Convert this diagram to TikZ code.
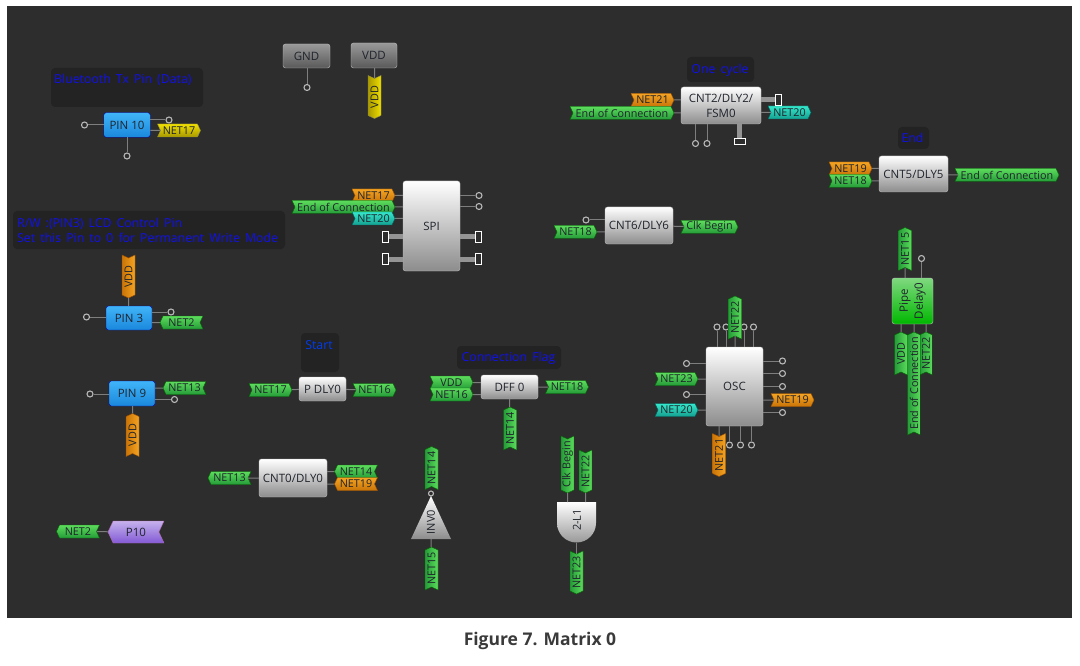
\documentclass[tikz,border=0pt]{standalone}
\usepackage{fontspec}
\setmainfont{Open Sans}
\newfontfamily\notefont[WordSpace=1.6]{Open Sans}
\usetikzlibrary{shapes.symbols}
\definecolor{boardbg}{HTML}{2D2D2D}
\definecolor{notebg}{HTML}{232323}
\definecolor{notetext}{HTML}{1010F0}
\definecolor{wirecol}{HTML}{7E7E7E}
\definecolor{capcol}{HTML}{3A3A3A}
\definecolor{inktext}{HTML}{20242C}
\tikzset{
	wire/.style={draw=wirecol, line width=1pt},
	bus/.style={draw=black!42, line width=5pt},
	openpin/.style={circle, draw=black!28, fill=boardbg, line width=1.1pt, minimum size=6pt, inner sep=0pt},
	busport/.style={rectangle, draw=white, fill=boardbg, line width=1pt, inner sep=0pt},
	note/.style={rectangle, rounded corners=4pt, fill=notebg, inner sep=0pt},
	notelabel/.style={text=notetext, font=\notefont\fontsize{12.3}{15}\selectfont, inner sep=0pt, align=left},
	block/.style={rectangle, rounded corners=2.5pt, draw=black!25, line width=0.4pt, top color=white, bottom color=black!45, text=inktext, font=\fontsize{11.5}{15}\selectfont, inner sep=0pt, align=center},
	pinblock/.style={block, draw=blue!70!black, top color=pintop, bottom color=pinbot},
	darkblock/.style={block, top color=black!40, bottom color=black!65},
	net/.style={signal, signal pointer angle=130, minimum height=13pt, minimum width=43pt, inner sep=0pt, line width=0.4pt, text=inktext, font=\fontsize{10.8}{12}\selectfont},
	netgreen/.style={net, draw=green!40!black, top color=greentop, bottom color=greenbot},
	netorange/.style={net, draw=orange!60!black, top color=orangetop, bottom color=orangebot},
	netyellow/.style={net, draw=yellow!50!black, top color=yellowtop, bottom color=yellowbot},
	netteal/.style={net, draw=teal!70!black, top color=tealtop, bottom color=tealbot},
	toright/.style={signal from=west, signal to=east},
	toleft/.style={signal from=east, signal to=west},
	toup/.style={rotate=90, signal from=west, signal to=east, shading angle=-90},
	todown/.style={rotate=90, signal from=east, signal to=west, shading angle=-90}
}
\definecolor{greentop}{HTML}{5CDC5C}
\definecolor{greenbot}{HTML}{259C38}
\definecolor{orangetop}{HTML}{F6A422}
\definecolor{orangebot}{HTML}{C87408}
\definecolor{yellowtop}{HTML}{F0E000}
\definecolor{yellowbot}{HTML}{A89800}
\definecolor{tealtop}{HTML}{34E8CC}
\definecolor{tealbot}{HTML}{14A090}
\definecolor{pintop}{HTML}{40B4F8}
\definecolor{pinbot}{HTML}{1A88DC}
\begin{document}
\begin{tikzpicture}[x=1pt, y=-1pt]
	\useasboundingbox (0,0) rectangle (1080,666);
	\fill[boardbg] (7,6) rectangle (1072,618);

	% Notes
	\node[note, minimum width=152, minimum height=39] (notetx) at (127,87.5) {};
	\node[notelabel, anchor=west] (notetxlabel) at (54,80) {Bluetooth Tx Pin (Data)};
	\node[note, minimum width=272, minimum height=38] (noterw) at (149,230) {};
	\node[notelabel, anchor=west] (noterwlabel) at (17,230.5) {R/W :(PIN3) LCD Control Pin\\Set this Pin to 0 for Permanent Write Mode};
	\node[note, minimum width=67, minimum height=25] (notecycle) at (720.5,69.5) {};
	\node[notelabel] (notecyclelabel) at (720,70) {One cycle};
	\node[note, minimum width=31, minimum height=22] (noteend) at (913.5,138) {};
	\node[notelabel] (noteendlabel) at (912.5,138) {End};
	\node[note, minimum width=38, minimum height=39] (notestart) at (320,352.5) {};
	\node[notelabel, text=blue!75!cyan!95!black] (notestartlabel) at (319,345) {Start};
	\node[note, minimum width=104, minimum height=23] (noteflag) at (509,357.5) {};
	\node[notelabel] (noteflaglabel) at (508.5,358) {Connection Flag};

	% PIN 10
	\node[pinblock, minimum width=46.5, minimum height=24.5] (pinten) at (127,125) {PIN 10};
	\node[openpin] (pintena) at (84.5,125) {};
	\node[openpin] (pintenb) at (169,120) {};
	\node[openpin] (pintenc) at (127,156) {};
	\node[netyellow, toright] (netseventeena) at (179,130.5) {NET17};
	\draw[wire] (pintena) -- (pinten);
	\draw[wire] (pinten.east |- pintenb) -- (pintenb);
	\draw[wire] (pinten.east |- netseventeena) -- (netseventeena);
	\draw[wire] (pinten) -- (pintenc);

	% PIN 3
	\node[pinblock, minimum width=46, minimum height=24] (pinthree) at (129,318) {PIN 3};
	\node[netorange, todown] (vddc) at (128.5,276.5) {VDD};
	\node[openpin] (pinthreea) at (86.5,317) {};
	\node[openpin] (pinthreeb) at (171,312) {};
	\node[netgreen, toleft] (nettwoa) at (181.5,322.5) {NET2};
	\draw[wire] (vddc) -- (vddc |- pinthree.north);
	\draw[wire] (pinthreea) -- (pinthree.west |- pinthreea);
	\draw[wire] (pinthree.east |- pinthreeb) -- (pinthreeb);
	\draw[wire] (pinthree.east |- nettwoa) -- (nettwoa);

	% PIN 9
	\node[pinblock, minimum width=46, minimum height=25] (pinnine) at (132,393.5) {PIN 9};
	\node[openpin] (pinninea) at (90,394) {};
	\node[openpin] (pinnineb) at (174.5,399.5) {};
	\node[netgreen, toleft] (netthirteena) at (184.5,388) {NET13};
	\node[netorange, toup] (vddd) at (132.5,435) {VDD};
	\draw[wire] (pinninea) -- (pinnine.west |- pinninea);
	\draw[wire] (pinnine.east |- pinnineb) -- (pinnineb);
	\draw[wire] (pinnine.east |- netthirteena) -- (netthirteena);
	\draw[wire] (vddd) -- (vddd |- pinnine.south);

	% P10
	\node[signal, signal from=east, signal to=west, signal pointer angle=130, minimum width=56, minimum height=22, inner sep=0pt, draw=violet!60, top color=violet!50!blue!30!white, bottom color=violet!50!blue!65!white, text=inktext, font=\fontsize{11.5}{15}\selectfont] (pten) at (136,532) {P10};
	\node[netgreen, toleft] (nettwob) at (78,531.5) {NET2};
	\draw[wire] (nettwob) -- (pten);

	% GND and VDD
	\node[darkblock, minimum width=47, minimum height=24] (gnd) at (306.5,56) {GND};
	\node[openpin] (gnda) at (307,87.5) {};
	\draw[wire] (gnd.south -| gnda) -- (gnda);
	\node[darkblock, minimum width=46, minimum height=25] (vdd) at (374,55.5) {VDD};
	\node[netyellow, todown] (vdda) at (374.5,97) {VDD};
	\draw[wire] (vdd.south -| vdda) -- (vdda);

	% SPI
	\node[block, minimum width=57, minimum height=90] (spi) at (431.5,226) {SPI};
	\node[netorange, toright] (netseventeenb) at (373.5,195.5) {NET17};
	\node[netgreen, toright, minimum width=103] (endb) at (343.5,207) {End of Connection};
	\node[netteal, toright] (nettwentya) at (373.5,218.5) {NET20};
	\node[openpin] (spia) at (479,195.5) {};
	\node[openpin] (spib) at (479,206.5) {};
	\node[busport, minimum width=6, minimum height=11] (spic) at (385,237) {};
	\node[busport, minimum width=6, minimum height=11] (spid) at (385,259) {};
	\node[busport, minimum width=6, minimum height=11] (spie) at (478.5,237) {};
	\node[busport, minimum width=6, minimum height=11] (spif) at (478.5,259) {};
	\draw[wire] (netseventeenb) -- (spi.west |- netseventeenb);
	\draw[wire] (endb) -- (spi.west |- endb);
	\draw[wire] (nettwentya) -- (spi.west |- nettwentya);
	\draw[wire] (spi.east |- spia) -- (spia);
	\draw[wire] (spi.east |- spib) -- (spib);
	\draw[bus] (spic) -- (spi.west |- spic);
	\draw[bus] (spid) -- (spi.west |- spid);
	\draw[bus] (spi.east |- spie) -- (spie);
	\draw[bus] (spi.east |- spif) -- (spif);

	% CNT2/DLY2/FSM0
	\node[block, minimum width=80, minimum height=37] (cnttwo) at (721,105.5) {CNT2/DLY2/\\FSM0};
	\node[netorange, toright] (nettwentyonea) at (652.5,100) {NET21};
	\node[netgreen, toright, minimum width=104] (enda) at (622,113) {End of Connection};
	\node[netteal, toright] (nettwentyb) at (789.5,112.5) {NET20};
	\node[busport, minimum width=6, minimum height=11] (cnttwoa) at (778,100) {};
	\node[busport, minimum width=11, minimum height=6] (cnttwob) at (739.5,142) {};
	\node[openpin] (cnttwoc) at (695.5,143.5) {};
	\node[openpin] (cnttwod) at (707,143.5) {};
	\draw[wire] (nettwentyonea) -- (cnttwo.west |- nettwentyonea);
	\draw[wire] (enda) -- (cnttwo.west |- enda);
	\draw[wire] (cnttwo.east |- nettwentyb) -- (nettwentyb);
	\draw[bus] (cnttwo.east |- cnttwoa) -- (cnttwoa);
	\draw[bus] (cnttwo.south -| cnttwob) -- (cnttwob);
	\draw[wire] (cnttwo.south -| cnttwoc) -- (cnttwoc);
	\draw[wire] (cnttwo.south -| cnttwod) -- (cnttwod);

	% CNT6/DLY6
	\node[block, minimum width=68, minimum height=37] (cntsix) at (639,225.5) {CNT6/DLY6};
	\node[openpin] (cntsixa) at (586,220) {};
	\node[netgreen, toright] (neteighteena) at (575.5,232) {NET18};
	\node[netgreen, toright, minimum width=57] (clka) at (709.5,227) {Clk Begin};
	\draw[wire] (cntsixa) -- (cntsix.west |- cntsixa);
	\draw[wire] (neteighteena) -- (cntsix.west |- neteighteena);
	\draw[wire] (cntsix) -- (clka);

	% CNT5/DLY5
	\node[block, minimum width=69, minimum height=36] (cntfive) at (913.5,174) {CNT5/DLY5};
	\node[netorange, toright] (netnineteena) at (850.5,168.5) {NET19};
	\node[netgreen, toright] (neteighteenb) at (850.5,181) {NET18};
	\node[netgreen, toright, minimum width=104] (endc) at (1007,175) {End of Connection};
	\draw[wire] (netnineteena) -- (cntfive.west |- netnineteena);
	\draw[wire] (neteighteenb) -- (cntfive.west |- neteighteenb);
	\draw[wire] (cntfive.east |- endc) -- (endc);

	% Pipe Delay
	\node[block, rotate=90, shading angle=-90, top color=green!70!black!50!white, bottom color=green!72!black, minimum width=46, minimum height=41] (pipe) at (912.5,301) {Pipe\\Delay0};
	\node[netgreen, toup] (netfifteena) at (905,249) {NET15};
	\node[openpin] (pipea) at (921.5,258.5) {};
	\node[netgreen, toup] (vdde) at (901,353.5) {VDD};
	\node[netgreen, toup] (nettwentytwoa) at (926,353.5) {NET22};
	\node[netgreen, toup, minimum width=103] (endd) at (914,383.5) {End of Connection};
	\draw[wire] (netfifteena) -- (netfifteena |- pipe.east);
	\draw[wire] (pipea) -- (pipea |- pipe.east);
	\draw[wire] (vdde) -- (vdde |- pipe.west);
	\draw[wire] (nettwentytwoa) -- (nettwentytwoa |- pipe.west);
	\draw[wire] (endd) -- (endd |- pipe.west);

	% OSC
	\node[block, minimum width=57, minimum height=79] (osc) at (734.5,386.5) {OSC};
	\node[openpin] (osca) at (717,327) {};
	\node[openpin] (oscb) at (726,327) {};
	\node[openpin] (oscc) at (744,327) {};
	\node[openpin] (oscd) at (753.5,327) {};
	\node[netgreen, toup] (nettwentytwob) at (735,317.5) {NET22};
	\node[openpin] (osce) at (686.5,363.5) {};
	\node[netgreen, toright] (nettwentythreea) at (676.5,379) {NET23};
	\node[openpin] (oscf) at (686.5,394.5) {};
	\node[netteal, toright] (nettwentyc) at (676.5,410) {NET20};
	\node[openpin] (oscg) at (782.5,361) {};
	\node[openpin] (osch) at (782.5,373.5) {};
	\node[openpin] (osci) at (782.5,386.5) {};
	\node[netorange, toright] (netnineteenb) at (792.5,400) {NET19};
	\node[openpin] (oscj) at (782.5,412.5) {};
	\node[netorange, todown] (nettwentyoneb) at (719,455) {NET21};
	\node[openpin] (osck) at (729.5,445) {};
	\node[openpin] (oscl) at (740.5,445) {};
	\node[openpin] (oscm) at (751.5,445) {};
	\draw[wire] (osca) -- (osca |- osc.north);
	\draw[wire] (oscb) -- (oscb |- osc.north);
	\draw[wire] (oscc) -- (oscc |- osc.north);
	\draw[wire] (oscd) -- (oscd |- osc.north);
	\draw[wire] (nettwentytwob) -- (nettwentytwob |- osc.north);
	\draw[wire] (osce) -- (osc.west |- osce);
	\draw[wire] (oscf) -- (osc.west |- oscf);
	\draw[wire] (nettwentythreea) -- (osc.west |- nettwentythreea);
	\draw[wire] (nettwentyc) -- (osc.west |- nettwentyc);
	\draw[wire] (osc.east |- oscg) -- (oscg);
	\draw[wire] (osc.east |- osch) -- (osch);
	\draw[wire] (osc.east |- osci) -- (osci);
	\draw[wire] (osc.east |- oscj) -- (oscj);
	\draw[wire] (osc.east |- netnineteenb) -- (netnineteenb);
	\draw[wire] (osc.south -| nettwentyoneb) -- (nettwentyoneb);
	\draw[wire] (osc.south -| osck) -- (osck);
	\draw[wire] (osc.south -| oscl) -- (oscl);
	\draw[wire] (osc.south -| oscm) -- (oscm);

	% P DLY0
	\node[block, minimum width=47, minimum height=24] (pdly) at (322.5,389) {P DLY0};
	\node[netgreen, toright] (netseventeenc) at (270.5,390) {NET17};
	\node[netgreen, toright] (netsixteena) at (374.5,390) {NET16};
	\draw[wire] (netseventeenc) -- (pdly);
	\draw[wire] (pdly) -- (netsixteena);

	% CNT0/DLY0
	\node[block, minimum width=68, minimum height=38] (cntzero) at (293,478) {CNT0/DLY0};
	\node[netgreen, toleft] (netthirteenb) at (229.5,478) {NET13};
	\node[netgreen, toleft] (netfourteena) at (356,471.5) {NET14};
	\node[netorange, toleft] (netnineteenc) at (356,484) {NET19};
	\draw[wire] (netthirteenb) -- (cntzero);
	\draw[wire] (cntzero.east |- netfourteena) -- (netfourteena);
	\draw[wire] (cntzero.east |- netnineteenc) -- (netnineteenc);

	% DFF 0
	\node[block, minimum width=57, minimum height=24] (dff) at (509.5,387) {DFF 0};
	\node[netgreen, toright] (vddb) at (451.5,382.5) {VDD};
	\node[netgreen, toright] (netsixteenb) at (451.5,394.5) {NET16};
	\node[netgreen, toright] (neteighteenc) at (567,387) {NET18};
	\node[netgreen, toup] (netfourteenb) at (510,428.5) {NET14};
	\draw[wire] (vddb) -- (dff.west |- vddb);
	\draw[wire] (netsixteenb) -- (dff.west |- netsixteenb);
	\draw[wire] (dff) -- (neteighteenc);
	\draw[wire] (dff) -- (netfourteenb);

	% INV0
	\node[netgreen, toup] (netfourteenc) at (431.5,468) {NET14};
	\node[openpin, minimum size=5pt] (inva) at (431,493.5) {};
	\coordinate (invbase) at (431,539);
	\shade[top color=white, bottom color=black!45] (431,496) -- (451,539) -- (411,539) -- cycle;
	\node[rotate=90, text=inktext, font=\fontsize{11}{12}\selectfont, inner sep=0pt] (inv) at (431,522) {INV0};
	\node[netgreen, toup] (netfifteenb) at (431.5,568.5) {NET15};
	\draw[wire] (invbase) -- (netfifteenb);

	% 2-L1
	\node[netgreen, todown, minimum width=57] (clkb) at (567.5,464.5) {Clk Begin};
	\node[netgreen, todown] (nettwentytwoc) at (585.5,471.5) {NET22};
	\coordinate (gatetopa) at (567.5,502);
	\coordinate (gatetopb) at (585.5,502);
	\coordinate (gatebase) at (576.5,543);
	\shade[top color=white, bottom color=black!40] (557,502) -- (596,502) -- (596,523) arc (0:180:19.5) -- cycle;
	\node[rotate=90, text=inktext, font=\fontsize{11}{12}\selectfont, inner sep=0pt] (gate) at (577,520) {2-L1};
	\node[netgreen, todown] (nettwentythreeb) at (576.5,572.5) {NET23};
	\draw[wire] (clkb) -- (gatetopa);
	\draw[wire] (nettwentytwoc) -- (gatetopb);
	\draw[wire] (gatebase) -- (nettwentythreeb);

	% Caption
	\node[text=capcol, font=\fontsize{17.5}{20}\selectfont\bfseries] (caption) at (540,641) {Figure 7. Matrix 0};
\end{tikzpicture}
\end{document}
